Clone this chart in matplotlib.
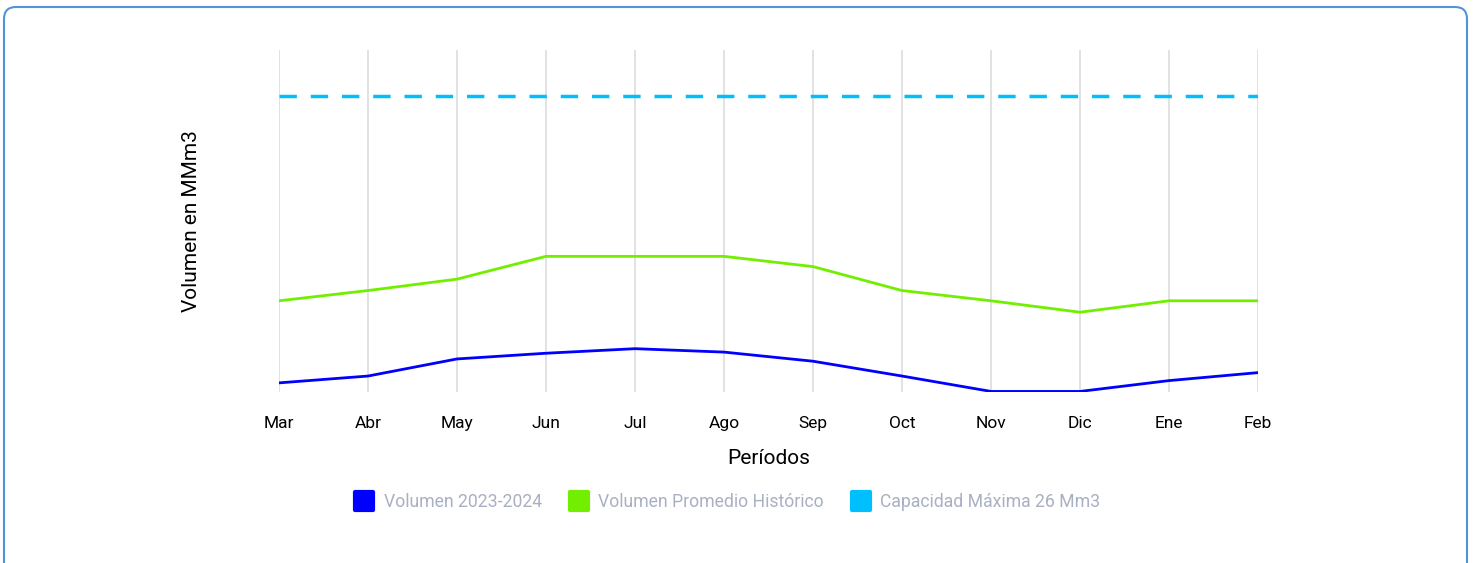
import matplotlib.pyplot as plt
from matplotlib.patches import FancyBboxPatch
from matplotlib.lines import Line2D
from matplotlib.markers import MarkerStyle

plt.rcParams['font.family'] = ['Roboto', 'DejaVu Sans']

# datos
periodos = ['Mar', 'Abr', 'May', 'Jun', 'Jul', 'Ago', 'Sep', 'Oct', 'Nov', 'Dic', 'Ene', 'Feb']
vol_actual = [0.8, 1.4, 2.9, 3.4, 3.8, 3.5, 2.7, 1.4, 0.05, 0.05, 1.0, 1.7]
vol_promedio = [8.0, 8.9, 9.9, 11.9, 11.9, 11.9, 11.0, 8.9, 8.0, 7.0, 8.0, 8.0]
capacidad = [26] * 12

labels = ['Volumen 2023-2024', 'Volumen Promedio Histórico', 'Capacidad Máxima 26 Mm3']
colors = ['#0000ff', '#72ef00', '#00bfff']

fig = plt.figure(figsize=(14.73, 5.63), dpi=100)
ax = fig.add_axes([279 / 1473, 1 - 392 / 563, (1258 - 279) / 1473, (392 - 50) / 563])

x = range(len(periodos))
ax.plot(x, vol_actual, color=colors[0], lw=2, zorder=3)
ax.plot(x, vol_promedio, color=colors[1], lw=2, zorder=3)
ax.plot(x, capacidad, color=colors[2], lw=2.5, dashes=(5, 4), zorder=3)

ax.set_xlim(0, len(periodos) - 1)
ax.set_ylim(0, 30)
ax.set_xticks(list(x))
ax.set_xticklabels(periodos, fontsize=12.5)
ax.set_yticks([])
ax.tick_params(axis='x', length=0, pad=17.5)
ax.grid(axis='x', color='#dddddd', lw=1.2)
for s in ax.spines.values():
    s.set_visible(False)

ax.set_xlabel('Períodos', fontsize=15, labelpad=13)
ax.set_ylabel('Volumen en MMm3', fontsize=15, labelpad=56)

sq = MarkerStyle('s', joinstyle='round')
handles = [Line2D([], [], ls='', marker=sq, markersize=12.5, mfc=c, mec=c, mew=3) for c in colors]
fig.legend(handles, labels, loc='center', bbox_to_anchor=(728 / 1473, 1 - 502 / 563),
           ncol=3, frameon=False, fontsize=12.7, labelcolor='#a9b0c3',
           handlelength=1.0, handletextpad=0.6, columnspacing=1.6)

border = FancyBboxPatch((4, -20), 1463, 576, boxstyle='round,pad=0,rounding_size=12',
                        transform=None, facecolor='none', edgecolor='#4f95d8', lw=1.5)
fig.patches.append(border)

fig.savefig('out.png', dpi=100)
